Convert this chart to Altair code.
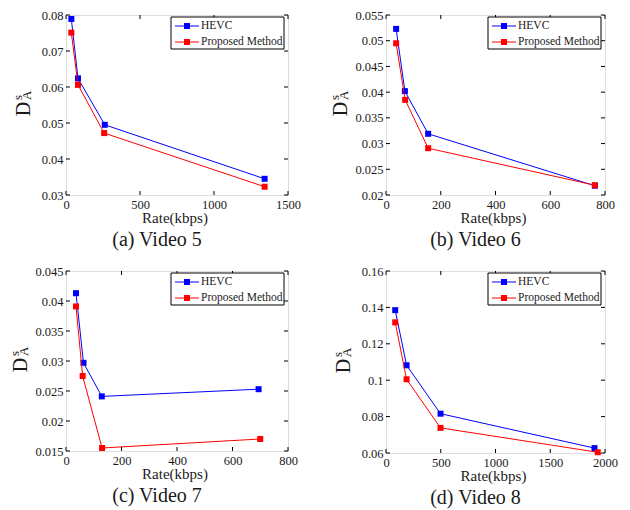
import altair as alt
import pandas as pd

FONT = "Times New Roman, Liberation Serif, serif"
TXT = "#1a1a1a"
SERIES = ["HEVC", "Proposed Method"]
COLORS = ["#0000FF", "#FF0000"]

# Video 5
v5_rate_hevc = [36, 81, 262, 1342]
v5_d_hevc = [0.0789, 0.0624, 0.0495, 0.0345]
v5_rate_prop = [36, 81, 258, 1342]
v5_d_prop = [0.0751, 0.0606, 0.0472, 0.0323]
v5_xticks = [0, 500, 1000, 1500]
v5_yticks = [0.03, 0.04, 0.05, 0.06, 0.07, 0.08]

# Video 6
v6_rate_hevc = [37, 69, 154, 763]
v6_d_hevc = [0.0523, 0.0402, 0.0319, 0.0218]
v6_rate_prop = [37, 70, 154, 763]
v6_d_prop = [0.0495, 0.0385, 0.0291, 0.0219]
v6_xticks = [0, 200, 400, 600, 800]
v6_yticks = [0.02, 0.025, 0.03, 0.035, 0.04, 0.045, 0.05, 0.055]

# Video 7
v7_rate_hevc = [36, 63, 129, 694]
v7_d_hevc = [0.0413, 0.0297, 0.0241, 0.0253]
v7_rate_prop = [36, 60, 130, 700]
v7_d_prop = [0.0391, 0.0275, 0.0155, 0.0170]
v7_xticks = [0, 200, 400, 600, 800]
v7_yticks = [0.015, 0.02, 0.025, 0.03, 0.035, 0.04, 0.045]

# Video 8
v8_rate_hevc = [84, 188, 498, 1904]
v8_d_hevc = [0.1385, 0.1082, 0.0816, 0.0627]
v8_rate_prop = [84, 188, 498, 1934]
v8_d_prop = [0.1318, 0.1005, 0.0738, 0.0604]
v8_xticks = [0, 500, 1000, 1500, 2000]
v8_yticks = [0.06, 0.08, 0.1, 0.12, 0.14, 0.16]

captions = ["(a) Video 5", "(b) Video 6", "(c) Video 7", "(d) Video 8"]
x_title = "Rate(kbps)"


def panel(rh, dh, rp, dp, xticks, yticks, W, H, caption, tdx):
    df = pd.DataFrame({
        "rate": rh + rp,
        "d": dh + dp,
        "series": [SERIES[0]] * len(rh) + [SERIES[1]] * len(rp),
    })
    xs = alt.Scale(domain=[xticks[0], xticks[-1]], nice=False, zero=False)
    ys = alt.Scale(domain=[yticks[0], yticks[-1]], nice=False, zero=False)
    xax = alt.Axis(values=xticks, format="d", title=None, ticks=False, tickSize=0,
                   domain=False, grid=False, labelFont=FONT, labelFontSize=12.5,
                   labelPadding=3, labelColor=TXT, labelFlush=False, labelOverlap=False)
    yax = alt.Axis(values=yticks, format=".3~g", title=None, ticks=False, tickSize=0,
                   domain=False, grid=False, labelFont=FONT, labelFontSize=12.5,
                   labelPadding=3, labelColor=TXT, labelFlush=False, labelOverlap=False)
    layers = []
    for name, color in zip(SERIES, COLORS):
        base = alt.Chart(df).transform_filter(alt.datum.series == name)
        enc = dict(x=alt.X("rate:Q", scale=xs, axis=xax), y=alt.Y("d:Q", scale=ys, axis=yax))
        layers.append(base.mark_line(color=color, strokeWidth=1).encode(**enc))
        layers.append(base.mark_point(shape="square", filled=True, size=36, color=color,
                                      opacity=1).encode(**enc))
    # inward ticks on all four sides
    ty = pd.DataFrame({"d": yticks})
    tx = pd.DataFrame({"rate": xticks})
    tick = dict(color="black", strokeWidth=1)
    layers.append(alt.Chart(ty).mark_rule(**tick).encode(
        y=alt.Y("d:Q", scale=ys, axis=yax), x=alt.value(0), x2=alt.value(4)))
    layers.append(alt.Chart(ty).mark_rule(**tick).encode(
        y=alt.Y("d:Q", scale=ys, axis=yax), x=alt.value(W - 4), x2=alt.value(W)))
    layers.append(alt.Chart(tx).mark_rule(**tick).encode(
        x=alt.X("rate:Q", scale=xs, axis=xax), y=alt.value(H), y2=alt.value(H - 4)))
    layers.append(alt.Chart(tx).mark_rule(**tick).encode(
        x=alt.X("rate:Q", scale=xs, axis=xax), y=alt.value(0), y2=alt.value(4)))
    # legend
    leg = pd.DataFrame({"series": SERIES, "color": COLORS})
    layers.append(alt.Chart(leg.iloc[:1]).mark_rect(fill="white", stroke="black", strokeWidth=1).encode(
        x=alt.value(W - 117), x2=alt.value(W - 4), y=alt.value(2), y2=alt.value(34)))
    for i, (name, color) in enumerate(zip(SERIES, COLORS)):
        row = leg.iloc[i:i + 1]
        yy = 11 + 16 * i
        layers.append(alt.Chart(row).mark_rule(color=color, strokeWidth=1).encode(
            x=alt.value(W - 113), x2=alt.value(W - 89), y=alt.value(yy)))
        layers.append(alt.Chart(row).mark_point(shape="square", filled=True, size=36,
                                                color=color, opacity=1).encode(
            x=alt.value(W - 101), y=alt.value(yy)))
        layers.append(alt.Chart(row).mark_text(font=FONT, fontSize=11.5, align="left",
                                               baseline="middle", color=TXT).encode(
            text="series:N", x=alt.value(W - 87), y=alt.value(yy)))
    # axis titles and caption
    txt = pd.DataFrame({"xt": [x_title], "cap": [caption], "D": ["D"], "s": ["s"], "A": ["A"]})
    layers.append(alt.Chart(txt).mark_text(font=FONT, fontSize=15, align="center",
                                           baseline="middle", color=TXT).encode(
        text="xt:N", x=alt.value(W / 2 - 2), y=alt.value(H + 23)))
    layers.append(alt.Chart(txt).mark_text(font=FONT, fontSize=20, align="center",
                                           baseline="middle", color=TXT).encode(
        text="cap:N", x=alt.value(W / 2 - 20), y=alt.value(H + 45)))
    layers.append(alt.Chart(txt).mark_text(font=FONT, fontSize=20, align="center",
                                           baseline="middle", angle=270, color=TXT).encode(
        text="D:N", x=alt.value(tdx), y=alt.value(H / 2 + 4)))
    layers.append(alt.Chart(txt).mark_text(font=FONT, fontSize=13, align="left",
                                           baseline="middle", angle=270, color=TXT).encode(
        text="s:N", x=alt.value(tdx - 6), y=alt.value(H / 2 - 5)))
    layers.append(alt.Chart(txt).mark_text(font=FONT, fontSize=13, align="left",
                                           baseline="middle", angle=270, color=TXT).encode(
        text="A:N", x=alt.value(tdx + 3), y=alt.value(H / 2 - 5)))
    return alt.layer(*layers).properties(width=W, height=H)


pa = panel(v5_rate_hevc, v5_d_hevc, v5_rate_prop, v5_d_prop, v5_xticks, v5_yticks, 222, 180, captions[0], -42)
pb = panel(v6_rate_hevc, v6_d_hevc, v6_rate_prop, v6_d_prop, v6_xticks, v6_yticks, 219, 180, captions[1], -45)
pc = panel(v7_rate_hevc, v7_d_hevc, v7_rate_prop, v7_d_prop, v7_xticks, v7_yticks, 222, 180, captions[2], -45)
pd_ = panel(v8_rate_hevc, v8_d_hevc, v8_rate_prop, v8_d_prop, v8_xticks, v8_yticks, 219, 182, captions[3], -42)

chart = alt.concat(
    pa, pb, pc, pd_, columns=2,
    spacing={"row": 76, "column": 98}, bounds="flush", padding=0,
).configure_view(stroke="black", strokeWidth=1.3).configure(background="white")

chart.save("out.html", embed_options={"renderer": "svg", "actions": False})
